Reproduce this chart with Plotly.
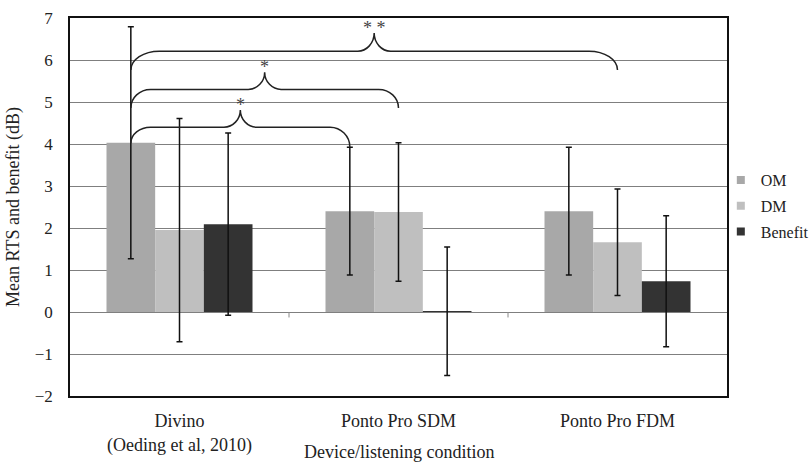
import plotly.graph_objects as go

categories = ["Divino<br>(Oeding et al, 2010)", "Ponto Pro SDM", "Ponto Pro FDM"]
series_names = ["OM", "DM", "Benefit"]
om_values = [4.03, 2.40, 2.40]
om_errors = [2.76, 1.52, 1.52]
dm_values = [1.95, 2.38, 1.66]
dm_errors = [2.66, 1.65, 1.27]
benefit_values = [2.09, 0.02, 0.73]
benefit_errors = [2.17, 1.53, 1.56]
series_colors = ["#a8a8a8", "#bfbfbf", "#333333"]

# significance brackets: (from category, from series, to category, to series,
#                         left end y, right end y, bar y, tip y, label)
brackets = [
    (0, 0, 1, 0, 4.02, 3.93, 4.40, 4.81, "*"),
    (0, 0, 1, 1, 4.86, 4.86, 5.30, 5.71, "*"),
    (0, 0, 2, 1, 5.76, 5.76, 6.21, 6.64, "* *"),
]
x_title = "Device/listening condition"
y_title = "Mean RTS and benefit (dB)"

serif = "Liberation Serif, Times New Roman, serif"
values = [om_values, dm_values, benefit_values]
errors = [om_errors, dm_errors, benefit_errors]
xpos = list(range(len(categories)))
bargap = 1 / 3
n_series = len(series_names)
bar_w = (1 - bargap) / n_series

fig = go.Figure()
for name, vals, errs, col in zip(series_names, values, errors, series_colors):
    fig.add_trace(go.Bar(
        x=xpos, y=vals, name=name, marker=dict(color=col, line=dict(width=0)),
        error_y=dict(type="data", array=errs, visible=True, color="#111111",
                     thickness=1.5, width=3),
        showlegend=False,
    ))
for i, (name, col) in enumerate(zip(series_names, series_colors)):
    fig.add_trace(go.Scatter(
        x=[None], y=[None], mode="markers", name=name, legendgroup=name,
        marker=dict(symbol="square", size=8, color=col),
    ))


def series_x(cat, s):
    return cat + (s - (n_series - 1) / 2) * bar_w


shapes = []
annotations = []
for c1, s1, c2, s2, yl, yr, yh, yc, lab in brackets:
    x1 = series_x(c1, s1)
    x2 = series_x(c2, s2)
    xm = (x1 + x2) / 2
    r = 0.09 if (x2 - x1) < 1.5 else 0.13
    c = 0.075
    k = 0.55
    path = (
        f"M {x1},{yl} "
        f"C {x1},{yl + k * (yh - yl)} {x1 + r * (1 - k)},{yh} {x1 + r},{yh} "
        f"L {xm - c},{yh} "
        f"C {xm - c * (1 - k)},{yh} {xm},{yc - k * (yc - yh)} {xm},{yc} "
        f"C {xm},{yc - k * (yc - yh)} {xm + c * (1 - k)},{yh} {xm + c},{yh} "
        f"L {x2 - r},{yh} "
        f"C {x2 - r * (1 - k)},{yh} {x2},{yr + k * (yh - yr)} {x2},{yr}"
    )
    shapes.append(dict(type="path", path=path, xref="x", yref="y",
                       line=dict(color="#222222", width=1.5)))
    annotations.append(dict(x=xm, y=yc, xref="x", yref="y", text=lab,
                            showarrow=False, yanchor="middle", yshift=5,
                            font=dict(family=serif, size=18, color="#444444")))

# x axis title placed just under the category labels
annotations.append(dict(x=0.5, y=-0.148, xref="paper", yref="paper", text=x_title,
                        showarrow=False, xanchor="center", yanchor="middle",
                        font=dict(family=serif, size=18, color="#222222")))

# small category-boundary tick marks on the zero line
for b in [0.5, 1.5]:
    shapes.append(dict(type="line", x0=b, x1=b, y0=0, y1=-0.13, xref="x", yref="y",
                       line=dict(color="#888888", width=1)))

fig.update_layout(
    width=809, height=463,
    margin=dict(l=70, r=82, t=18, b=67, autoexpand=False),
    paper_bgcolor="white", plot_bgcolor="white",
    barmode="group", bargap=bargap, bargroupgap=0,
    font=dict(family=serif, size=18, color="#222222"),
    shapes=shapes, annotations=annotations,
    legend=dict(xref="container", x=0.891, xanchor="left",
                yref="container", y=0.648, yanchor="top",
                font=dict(family=serif, size=16, color="#222222"),
                tracegroupgap=2, itemwidth=30, bgcolor="rgba(0,0,0,0)"),
)
fig.update_xaxes(
    range=[-0.5, 2.5], tickvals=xpos, ticktext=categories,
    showline=True, linecolor="#111111", linewidth=1.5, mirror=True,
    showgrid=False, zeroline=False, ticks="", automargin=False,
    ticklabelstandoff=8,
    tickfont=dict(family=serif, size=18, color="#222222"),
)
fig.update_yaxes(
    range=[-2, 7], dtick=1, tick0=0,
    showline=True, linecolor="#111111", linewidth=1.5, mirror=True,
    showgrid=True, gridcolor="#7f7f7f", gridwidth=1,
    zeroline=True, zerolinecolor="#7f7f7f", zerolinewidth=1,
    ticks="", ticklabelstandoff=12, automargin=False,
    tickfont=dict(family=serif, size=17, color="#222222"),
    title=dict(text=y_title, standoff=10,
               font=dict(family=serif, size=18, color="#222222")),
)

fig.write_html("out.html")
